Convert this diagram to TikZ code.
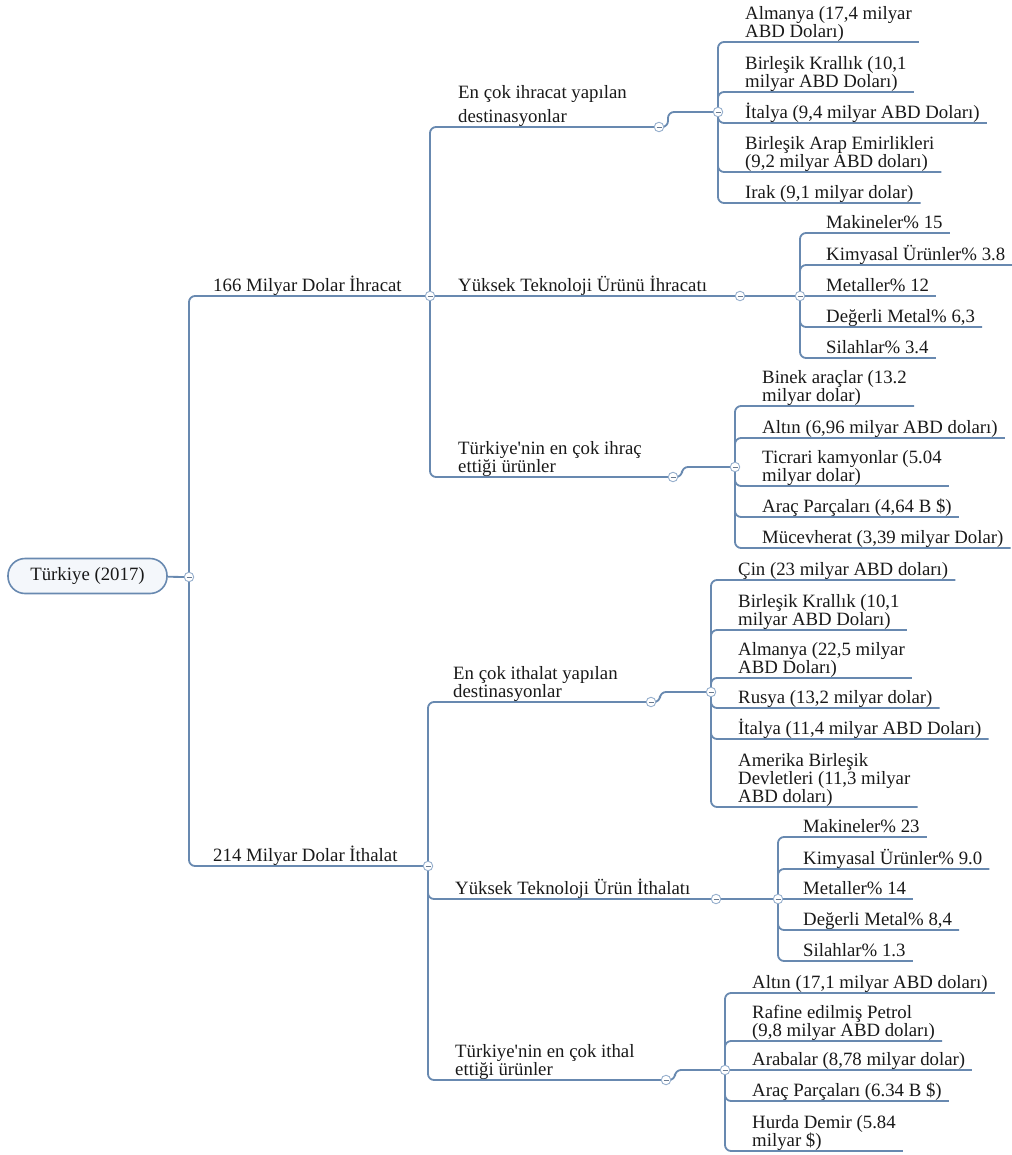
\documentclass[tikz,border=0pt]{standalone}
\usepackage{fontspec}
\setmainfont{Liberation Serif}[Ligatures=TeXOff]
\usetikzlibrary{backgrounds}

\definecolor{linkblue}{RGB}{104,137,176}
\definecolor{knobblue}{RGB}{150,175,205}
\definecolor{pillfill}{RGB}{244,247,251}

\tikzset{
    link/.style={draw=linkblue, line width=1.8pt, rounded corners=6pt},
    knob/.style={circle, draw=knobblue, fill=white, line width=0.9pt,
        minimum size=9.5pt, inner sep=0pt,
        path picture={\draw[knobblue!70!black, line width=0.8pt]
            ([xshift=-2.5pt]path picture bounding box.center) --
            ([xshift=2.5pt]path picture bounding box.center);}},
    topic/.style={anchor=south west, inner sep=0pt, text depth=4.5pt, align=left,
        font=\fontsize{18.8}{18}\selectfont, text=black!90},
    central/.style={draw=linkblue, fill=pillfill, line width=1.6pt,
        rounded corners=17pt, minimum width=159pt, minimum height=35pt,
        font=\fontsize{18.8}{18}\selectfont, text=black!90}
}

\begin{document}
\begin{tikzpicture}[x=1pt,y=-1pt]
    \useasboundingbox (0,0) rectangle (1011,1155);

    % root
    \node[central] (root) at (87.5,576) {Türkiye (2017)};
    \node[knob] (m0) at (189,577) {};

    % export side
    \node[knob] (mx) at (430,296) {};
    \node[topic] (lx) at (213,296) {166 Milyar Dolar İhracat};

    \node[knob] (mx1) at (659,127) {};
    \node[knob] (mx1b) at (718,112) {};
    \node[topic] (lx1) at (458,127) {En çok ihracat yapılan\\[6pt]destinasyonlar};
    \node[topic] (ed1) at (745,42) {Almanya (17,4 milyar\\ABD Doları)};
    \node[topic] (ed2) at (745,92) {Birleşik Krallık (10,1\\milyar ABD Doları)};
    \node[topic] (ed3) at (745,123) {İtalya (9,4 milyar ABD Doları)};
    \node[topic] (ed4) at (745,172) {Birleşik Arap Emirlikleri\\(9,2 milyar ABD doları)};
    \node[topic] (ed5) at (745,203) {Irak (9,1 milyar dolar)};

    \node[knob] (mx2) at (740,296) {};
    \node[knob] (mx2b) at (800,296) {};
    \node[topic] (lx2) at (458,296) {Yüksek Teknoloji Ürünü İhracatı};
    \node[topic] (et1) at (826,233) {Makineler\% 15};
    \node[topic] (et2) at (826,265) {Kimyasal Ürünler\% 3.8};
    \node[topic] (et3) at (826,296) {Metaller\% 12};
    \node[topic] (et4) at (826,327) {Değerli Metal\% 6,3};
    \node[topic] (et5) at (826,358) {Silahlar\% 3.4};

    \node[knob] (mx3) at (673,477) {};
    \node[knob] (mx3b) at (735,467) {};
    \node[topic] (lx3) at (458,477) {Türkiye'nin en çok ihraç\\ettiği ürünler};
    \node[topic] (ep1) at (762,406) {Binek araçlar (13.2\\milyar dolar)};
    \node[topic] (ep2) at (762,438) {Altın (6,96 milyar ABD doları)};
    \node[topic] (ep3) at (762,486) {Ticrari kamyonlar (5.04\\milyar dolar)};
    \node[topic] (ep4) at (762,517) {Araç Parçaları (4,64 B \$)};
    \node[topic] (ep5) at (762,548) {Mücevherat (3,39 milyar Dolar)};

    % import side
    \node[knob] (mi) at (428,866) {};
    \node[topic] (li) at (213,866) {214 Milyar Dolar İthalat};

    \node[knob] (mi1) at (651,702) {};
    \node[knob] (mi1b) at (711,692) {};
    \node[topic] (li1) at (453,702) {En çok ithalat yapılan\\destinasyonlar};
    \node[topic] (id1) at (738,580) {Çin (23 milyar ABD doları)};
    \node[topic] (id2) at (738,630) {Birleşik Krallık (10,1\\milyar ABD Doları)};
    \node[topic] (id3) at (738,678) {Almanya (22,5 milyar\\ABD Doları)};
    \node[topic] (id4) at (738,708) {Rusya (13,2 milyar dolar)};
    \node[topic] (id5) at (738,739) {İtalya (11,4 milyar ABD Doları)};
    \node[topic] (id6) at (738,807) {Amerika Birleşik\\Devletleri (11,3 milyar\\ABD doları)};

    \node[knob] (mi2) at (716,899) {};
    \node[knob] (mi2b) at (778,899) {};
    \node[topic] (li2) at (455,899) {Yüksek Teknoloji Ürün İthalatı};
    \node[topic] (it1) at (803,837) {Makineler\% 23};
    \node[topic] (it2) at (803,869) {Kimyasal Ürünler\% 9.0};
    \node[topic] (it3) at (803,899) {Metaller\% 14};
    \node[topic] (it4) at (803,930) {Değerli Metal\% 8,4};
    \node[topic] (it5) at (803,961) {Silahlar\% 1.3};

    \node[knob] (mi3) at (666,1080) {};
    \node[knob] (mi3b) at (725,1070) {};
    \node[topic] (li3) at (455,1080) {Türkiye'nin en çok ithal\\ettiği ürünler};
    \node[topic] (ip1) at (752,993) {Altın (17,1 milyar ABD doları)};
    \node[topic] (ip2) at (752,1041) {Rafine edilmiş Petrol\\(9,8 milyar ABD doları)};
    \node[topic] (ip3) at (752,1070) {Arabalar (8,78 milyar dolar)};
    \node[topic] (ip4) at (752,1101) {Araç Parçaları (6.34 B \$)};
    \node[topic] (ip5) at (752,1151) {Hurda Demir (5.84\\milyar \$)};

    % connectors
    \begin{scope}[on background layer]
        \draw[link] (root) -- (m0);
        \draw[link] (m0) |- (mx);
        \draw[link] (m0) |- (mi);

        \draw[link] (mx) |- (mx1);
        \draw[link] (mx1) -- ++(9,0) |- (mx1b);
        \foreach \n in {ed1,ed2,ed3,ed4,ed5}
            \draw[link] (mx1b) |- ([xshift=7pt]\n.south east);
        \draw[link] (mx) -- (mx2);
        \draw[link] (mx2) -- (mx2b);
        \foreach \n in {et1,et2,et4,et5}
            \draw[link] (mx2b) |- ([xshift=7pt]\n.south east);
        \draw[link] (mx2b) -- ([xshift=7pt]et3.south east);
        \draw[link] (mx) |- (mx3);
        \draw[link] (mx3) -- ++(9,0) |- (mx3b);
        \foreach \n in {ep1,ep2,ep3,ep4,ep5}
            \draw[link] (mx3b) |- ([xshift=7pt]\n.south east);

        \draw[link] (mi) |- (mi1);
        \draw[link] (mi1) -- ++(9,0) |- (mi1b);
        \foreach \n in {id1,id2,id3,id4,id5,id6}
            \draw[link] (mi1b) |- ([xshift=7pt]\n.south east);
        \draw[link] (mi) |- (mi2);
        \draw[link] (mi2) -- (mi2b);
        \foreach \n in {it1,it2,it4,it5}
            \draw[link] (mi2b) |- ([xshift=7pt]\n.south east);
        \draw[link] (mi2b) -- ([xshift=7pt]it3.south east);
        \draw[link] (mi) |- (mi3);
        \draw[link] (mi3) -- ++(9,0) |- (mi3b);
        \foreach \n in {ip1,ip2,ip4,ip5}
            \draw[link] (mi3b) |- ([xshift=7pt]\n.south east);
        \draw[link] (mi3b) -- ([xshift=7pt]ip3.south east);
    \end{scope}
\end{tikzpicture}
\end{document}
